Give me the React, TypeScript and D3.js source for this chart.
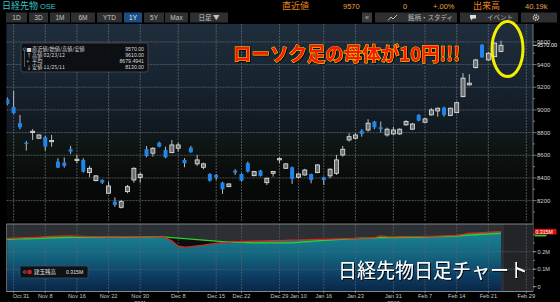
import React, { useEffect } from 'react';
import * as d3 from 'd3';

// ---- data ----
const opens = [
  9094, 9024, 8883, 8711, 8806, 8750, 8759, 8720, 8544, 8535,
  8653, 8553, 8559, 8447, 8376, 8382, 8265, 8191, 8141, 8279,
  8382, 8403, 8653, 8618, 8711, 8647, 8623, 8662, 8559, 8667,
  8524, 8494, 8435, 8426, 8358, 8323, 8465, 8435, 8530, 8420,
  8465, 8358, 8441, 8560, 8485, 8494, 8406, 8426, 8435, 8447,
  8406, 8418, 8441, 8603, 8735, 8750, 8817, 8823, 8897, 8847,
  8779, 8788, 8788, 8868, 8830, 8956, 8891, 8956, 8991, 9020,
  8950, 8976, 9117, 9221, 9373, 9574, 9441, 9470, 9515,
];
const highs = [
  9110, 9168, 8956, 8726, 8830, 8785, 8771, 8779, 8574, 8580,
  8682, 8603, 8574, 8506, 8425, 8388, 8367, 8229, 8206, 8338,
  8494, 8447, 8682, 8671, 8720, 8676, 8735, 8711, 8574, 8682,
  8603, 8535, 8441, 8435, 8367, 8353, 8477, 8441, 8544, 8462,
  8470, 8403, 8462, 8582, 8530, 8500, 8441, 8480, 8438, 8520,
  8412, 8485, 8603, 8682, 8794, 8794, 8830, 8918, 8903, 8897,
  8844, 8850, 8838, 8910, 8885, 8962, 8930, 9015, 9020, 9029,
  9020, 9073, 9324, 9315, 9450, 9580, 9510, 9595, 9610,
];
const lows = [
  9040, 8965, 8830, 8641, 8735, 8745, 8641, 8676, 8488, 8491,
  8612, 8530, 8447, 8406, 8370, 8347, 8259, 8145, 8130, 8265,
  8358, 8358, 8582, 8588, 8670, 8574, 8618, 8632, 8494, 8623,
  8506, 8477, 8367, 8382, 8259, 8318, 8426, 8367, 8447, 8415,
  8412, 8338, 8411, 8530, 8480, 8347, 8394, 8420, 8353, 8441,
  8338, 8397, 8426, 8588, 8720, 8740, 8764, 8808, 8830, 8800,
  8764, 8779, 8779, 8860, 8825, 8900, 8885, 8950, 8941, 8941,
  8945, 8971, 9112, 9215, 9365, 9460, 9435, 9465, 9510,
];
const closes = [
  9053, 8971, 8847, 8700, 8812, 8779, 8676, 8730, 8491, 8506,
  8632, 8565, 8455, 8485, 8418, 8358, 8329, 8162, 8191, 8323,
  8485, 8432, 8594, 8662, 8676, 8582, 8691, 8691, 8530, 8626,
  8559, 8524, 8376, 8406, 8300, 8347, 8447, 8376, 8456, 8456,
  8418, 8397, 8456, 8570, 8524, 8391, 8435, 8470, 8382, 8515,
  8382, 8477, 8559, 8653, 8764, 8779, 8788, 8883, 8847, 8830,
  8830, 8823, 8830, 8897, 8876, 8906, 8921, 9000, 9015, 8956,
  9015, 9064, 9280, 9236, 9441, 9465, 9500, 9589, 9570,
];
// open interest (millions) and its average line
const openInterest = [
  0.277, 0.278, 0.279, 0.280, 0.281, 0.283, 0.286, 0.288, 0.289, 0.290,
  0.290, 0.289, 0.288, 0.287, 0.286, 0.286, 0.285, 0.285, 0.286, 0.286,
  0.285, 0.285, 0.284, 0.284, 0.283, 0.280, 0.262, 0.232, 0.226, 0.229,
  0.234, 0.238, 0.243, 0.248, 0.252, 0.255, 0.257, 0.258, 0.259, 0.260,
  0.261, 0.262, 0.263, 0.264, 0.265, 0.266, 0.267, 0.268, 0.269, 0.270,
  0.271, 0.272, 0.273, 0.274, 0.275, 0.276, 0.277, 0.278, 0.280, 0.290,
  0.286, 0.285, 0.286, 0.286, 0.287, 0.287, 0.288, 0.288, 0.289, 0.290,
  0.292, 0.293, 0.300, 0.306, 0.307, 0.309, 0.311, 0.313, 0.315,
];
const oiAverage = [
  0.271, 0.272, 0.273, 0.274, 0.275, 0.276, 0.278, 0.279, 0.280, 0.281,
  0.282, 0.282, 0.283, 0.283, 0.283, 0.284, 0.284, 0.284, 0.284, 0.284,
  0.284, 0.284, 0.284, 0.284, 0.284, 0.283, 0.281, 0.278, 0.275, 0.272,
  0.269, 0.266, 0.263, 0.260, 0.258, 0.256, 0.254, 0.253, 0.252, 0.251,
  0.251, 0.250, 0.250, 0.250, 0.251, 0.251, 0.253, 0.256, 0.259, 0.262,
  0.265, 0.267, 0.269, 0.271, 0.273, 0.275, 0.277, 0.278, 0.279, 0.280,
  0.281, 0.281, 0.282, 0.282, 0.283, 0.284, 0.285, 0.286, 0.286, 0.287,
  0.288, 0.289, 0.292, 0.295, 0.297, 0.299, 0.301, 0.303, 0.305,
];
const priceTicks = [8200, 8400, 8600, 8800, 9000, 9200, 9400, 9600];
const oiTicks = [0, 0.1, 0.2];
const oiTickLabels = ['0', '0.1M', '0.2M'];
const dateLabels = ['Oct 31', 'Nov 8', 'Nov 16', 'Nov 22', 'Nov 30', 'Dec 8', 'Dec 15', 'Dec 22', 'Dec 29',
  'Jan 10', 'Jan 16', 'Jan 23', 'Jan 31', 'Feb 7', 'Feb 14', 'Feb 21', 'Feb 29'];
const dateIndex = [1, 6, 11, 16, 21, 27, 33, 37, 43, 46, 50, 55, 61, 66, 71, 76, 82];
const yearLabels = ['2011', '2012'];
const yearIndex = [21, 61];
const lastPrice = 9570;
const lastOI = 0.315;
const rangeButtons = ['1D', '3D', '1M', '6M', 'YTD', '1Y', '5Y', 'Max', '日足 ▼'];
const activeButton = '1Y';
const legendRows = ['直近値/始値/高値/安値', '高値 02/23/12', '平均', '安値 11/25/11'];
const legendValues = ['9570.00', '9610.00', '8679.4941', '8130.00'];
const legendIcons = ['■', '↑', '+', '↓'];

// ---- layout ----
const W = 560, H = 302;
const PL = 6.5, PR = 533, MT = 24, MB = 222, ST = 224, SB = 291.5;
const btnX = [6, 29, 50, 71, 97, 124, 144, 165, 190];
const btnW = [21, 19, 20, 24, 25, 18, 20, 23, 38];
const FONT = '"Liberation Sans", "DejaVu Sans", sans-serif';
const JFONT = '"Noto Sans CJK JP", "Noto Sans", sans-serif';

export default function App() {
  useEffect(() => {
    document.body.style.margin = '0';
    document.body.style.background = '#000';
    document.body.style.overflow = 'hidden';
  }, []);

  const n = closes.length;
  const idx = d3.range(n);
  const x = d3.scaleLinear().domain([0, n - 1]).range([7.3, 501]);
  const y = d3.scaleLinear().domain([8200, 9600]).range([200.6, 41.9]);
  const yOI = d3.scaleLinear().domain([0, lastOI]).range([286.7, 231.6]);

  const oiLine = d3.line<number>().x(i => x(i)).y(i => yOI(openInterest[i]));
  const avgLine = d3.line<number>().x(i => x(i)).y(i => yOI(oiAverage[i]));
  const oiArea = d3.area<number>().x(i => x(i)).y0(SB).y1(i => yOI(openInterest[i]));
  const gapArea = d3.area<number>().x(i => x(i))
    .y0(i => yOI(openInterest[i]))
    .y1(i => yOI(Math.max(openInterest[i], oiAverage[i])));
  const minorTicks = d3.range(8100, 9700, 100);
  const lastX = x(n - 1) + 3;

  return (
    <svg width={W} height={H} style={{ position: 'absolute', left: 0, top: 0, display: 'block', background: '#000' }}>
      <defs>
        <linearGradient id="mainBg" x1="0" y1="0" x2="0" y2="1">
          <stop offset="0%" stopColor="#1f2e3c" />
          <stop offset="30%" stopColor="#172330" />
          <stop offset="52%" stopColor="#111a22" />
          <stop offset="62%" stopColor="#0e1512" />
          <stop offset="80%" stopColor="#080909" />
          <stop offset="100%" stopColor="#050505" />
        </linearGradient>
        <linearGradient id="oiFill" x1="0" y1="0" x2="0" y2="1">
          <stop offset="0%" stopColor="#1b8392" />
          <stop offset="40%" stopColor="#136580" />
          <stop offset="75%" stopColor="#0d3c62" />
          <stop offset="100%" stopColor="#0a2646" />
        </linearGradient>
        <clipPath id="mainClip"><rect x={PL} y={MT} width={PR - PL} height={MB - MT} /></clipPath>
        <clipPath id="subClip"><rect x={PL} y={ST} width={PR - PL} height={SB - ST} /></clipPath>
        <filter id="shadow" x="-5%" y="-20%" width="110%" height="140%">
          <feDropShadow dx="1" dy="1" stdDeviation="0.6" floodColor="#000" floodOpacity="0.9" />
        </filter>
      </defs>

      {/* header */}
      <text x={2} y={9} fontFamily={JFONT} fontSize={9} fill="#35c6c6">日経先物 <tspan fontFamily={FONT} fontSize={7.5}>OSE</tspan></text>
      <text x={282} y={9} fontFamily={JFONT} fontSize={9} fill="#e8801c">直近値</text>
      <text x={343} y={9} fontFamily={FONT} fontSize={7.5} fill="#e8a040">{lastPrice}</text>
      <text x={403} y={9} fontFamily={FONT} fontSize={7.5} fill="#e8a040">0</text>
      <text x={433} y={9} fontFamily={FONT} fontSize={7.5} fill="#e8a040">+.00%</text>
      <text x={473} y={9} fontFamily={JFONT} fontSize={9} fill="#e8801c">出来高</text>
      <text x={525} y={9} fontFamily={FONT} fontSize={7.5} fill="#e8a040">40.19k</text>

      {/* toolbar */}
      {rangeButtons.map((b, i) => (
        <g key={b}>
          <rect x={btnX[i]} y={12.5} width={btnW[i]} height={10} fill={b === activeButton ? '#1b4c82' : '#2e2f31'} />
          <text x={btnX[i] + btnW[i] / 2} y={20.3} textAnchor="middle" fontFamily={b === '日足 ▼' ? JFONT : FONT}
            fontSize={6.5} fill={b === activeButton ? '#e8eef6' : '#c4c4c4'}>{b}</text>
        </g>
      ))}
      <rect x={362} y={12.5} width={10} height={10} fill="#3a3b3d" />
      <text x={367} y={20} textAnchor="middle" fontFamily={FONT} fontSize={7} fill="#bbb">«</text>
      <rect x={375} y={12.5} width={82} height={10} fill="#2e2f31" />
      <path d="M388,20.5 L391,17 L393,19 L397,15" stroke="#ccc" fill="none" strokeWidth={0.9} />
      <text x={408} y={20.3} fontFamily={JFONT} fontSize={6.5} fill="#b8b8b8">銘柄・スタディ</text>
      <rect x={460} y={12.5} width={58} height={10} fill="#2e2f31" />
      <path d="M470,15 L476,15 L476,18.5 L473,18.5 L471,20.5 L471,18.5 L470,18.5 Z" fill="#ddd" />
      <text x={487} y={20.3} fontFamily={JFONT} fontSize={6.5} fill="#b8b8b8">イベント</text>
      <rect x={521} y={12.5} width={36} height={10} fill="#2e2f31" />
      <circle cx={536} cy={17.5} r={2.6} fill="none" stroke="#ddd" strokeWidth={1.4} strokeDasharray="1.2,0.8" />
      <circle cx={536} cy={17.5} r={1} fill="#ddd" />

      {/* main panel */}
      <rect x={PL} y={MT} width={PR - PL} height={MB - MT} fill="url(#mainBg)" />
      <g stroke="#5e656c" strokeWidth={0.8} strokeDasharray="2,1">
        {priceTicks.map(p => <line key={p} x1={PL} x2={PR} y1={y(p)} y2={y(p)} />)}
        {dateIndex.map(d => <line key={'v' + d} x1={x(d)} x2={x(d)} y1={MT} y2={MB} />)}
      </g>
      <g clipPath="url(#mainClip)">
        {idx.map(i => {
          const up = closes[i] >= opens[i];
          const top = y(Math.max(opens[i], closes[i]));
          const bot = y(Math.min(opens[i], closes[i]));
          return (
            <g key={i}>
              <line x1={x(i)} x2={x(i)} y1={y(highs[i])} y2={y(lows[i])} stroke="#b9bdc2" strokeWidth={1} />
              <rect x={x(i) - 2} y={top} width={4} height={Math.max(1.2, bot - top)}
                fill={up ? '#6a6f74' : '#1f86f0'} stroke={up ? '#e8e8e8' : 'none'} strokeWidth={up ? 0.8 : 0} />
            </g>
          );
        })}
      </g>

      {/* legend box */}
      <rect x={21} y={43} width={127} height={29} rx={2} fill="#0b0d10" fillOpacity={0.92} stroke="#4a5057" strokeWidth={0.8} />
      <line x1={24.5} x2={24.5} y1={50} y2={67} stroke="#888" strokeWidth={0.6} />
      <circle cx={24.5} cy={49.3} r={1.3} fill="#0b0d10" stroke="#aaa" strokeWidth={0.6} />
      {legendRows.map((r, i) => (
        <g key={r}>
          <text x={26.5} y={51.3 + i * 5.8} fontFamily={JFONT} fontSize={5} fill="#e0e0e0">{legendIcons[i]}</text>
          <text x={32} y={51.3 + i * 5.8} fontFamily={JFONT} fontSize={5.2} fill="#d8d8d8">{r}</text>
          <text x={144} y={51.3 + i * 5.8} textAnchor="end" fontFamily={FONT} fontSize={5.2} fill="#d8d8d8">{legendValues[i]}</text>
        </g>
      ))}

      {/* main right axis */}
      <line x1={PR} x2={PR} y1={MT} y2={SB} stroke="#8a8e92" strokeWidth={0.8} />
      {minorTicks.map(p => <line key={'m' + p} x1={PR} x2={PR + (p % 200 === 0 ? 3.5 : 2)} y1={y(p)} y2={y(p)} stroke="#9a9ea2" strokeWidth={0.7} />)}
      {priceTicks.map(p => (
        <text key={'t' + p} x={537} y={y(p) + 2} fontFamily={FONT} fontSize={6} fill="#d0d0d0">{p}</text>
      ))}
      <line x1={PR} x2={537} y1={y(lastPrice)} y2={y(lastPrice)} stroke="#fff" strokeWidth={0.8} />
      <text x={537} y={y(lastPrice) + 1.5} fontFamily={FONT} fontSize={5.6} fill="#f0f0f0">{lastPrice.toFixed(2)}</text>

      {/* sub panel */}
      <rect x={PL} y={ST} width={PR - PL} height={SB - ST} fill="#2c2f33" />
      <rect x={lastX} y={ST} width={PR - lastX} height={SB - ST} fill="#222427" />
      <g clipPath="url(#subClip)">
        <path d={oiArea(idx) || ''} fill="url(#oiFill)" />
        <path d={gapArea(idx) || ''} fill="#0b0d0f" />
      </g>
      <g stroke="#5e656c" strokeWidth={0.8} strokeDasharray="2,1" strokeOpacity={0.8}>
        {oiTicks.slice(1).map(v => <line key={'o' + v} x1={PL} x2={PR} y1={yOI(v)} y2={yOI(v)} />)}
        {dateIndex.map(d => <line key={'sv' + d} x1={x(d)} x2={x(d)} y1={ST} y2={SB} />)}
      </g>
      <path d={avgLine(idx) || ''} fill="none" stroke="#27d82a" strokeWidth={1.3} />
      <path d={oiLine(idx) || ''} fill="none" stroke="#e0261c" strokeWidth={1.2} />
      <line x1={PL} x2={PR} y1={ST} y2={ST} stroke="#8c9094" strokeWidth={0.9} />
      <line x1={PL} x2={PL} y1={ST} y2={SB} stroke="#777" strokeWidth={0.8} />

      {/* sub legend */}
      <rect x={20} y={266} width={68} height={12} rx={1.5} fill="#0c0e11" fillOpacity={0.92} stroke="#4a5057" strokeWidth={0.7} />
      <circle cx={24.8} cy={272} r={1.3} fill="none" stroke="#aaa" strokeWidth={0.6} />
      <rect x={27.5} y={270} width={4} height={4} fill="#e01818" />
      <text x={34} y={274} fontFamily={JFONT} fontSize={5.5} fill="#e0e0e0">建玉残高</text>
      <text x={66} y={274} fontFamily={FONT} fontSize={5.2} fill="#e0e0e0">{lastOI}M</text>

      {/* sub right axis */}
      {d3.range(0, 0.35, 0.05).map(v => (
        <line key={'om' + v} x1={PR} x2={PR + 2} y1={yOI(v)} y2={yOI(v)} stroke="#9a9ea2" strokeWidth={0.7} />
      ))}
      {oiTicks.map((v, i) => (
        <g key={'ol' + v}>
          <line x1={PR} x2={PR + 3.5} y1={yOI(v)} y2={yOI(v)} stroke="#bbb" strokeWidth={0.7} />
          <text x={537.5} y={yOI(v) + 2} fontFamily={FONT} fontSize={5.6} fill="#d0d0d0">{oiTickLabels[i]}</text>
        </g>
      ))}
      <rect x={PR + 1.5} y={yOI(lastOI) + 3.2} width={12} height={1.6} fill="#27d82a" />
      <rect x={PR + 1.5} y={yOI(lastOI) - 2.7} width={22} height={5.6} fill="#e01010" />
      <text x={PR + 2.5} y={yOI(lastOI) + 1.9} fontFamily={FONT} fontSize={5.2} fill="#fff">{lastOI}M</text>

      {/* x axis */}
      <line x1={PL} x2={PR} y1={SB} y2={SB} stroke="#a0a4a8" strokeWidth={0.8} />
      {dateIndex.map((d, i) => (
        <g key={'x' + d}>
          <line x1={x(d)} x2={x(d)} y1={SB} y2={SB + 1.8} stroke="#aaa" strokeWidth={0.7} />
          <text x={Math.max(x(d), 21)} y={298} textAnchor="middle" fontFamily={FONT} fontSize={5.6} fill="#c8c8c8">{dateLabels[i]}</text>
        </g>
      ))}
      {yearLabels.map((yl, i) => (
        <text key={yl} x={x(yearIndex[i])} y={304.5} textAnchor="middle" fontFamily={FONT} fontSize={5.6} fill="#c8c8c8">{yl}</text>
      ))}

      {/* annotations */}
      <text x={338} y={278} fontFamily={JFONT} fontSize={20} fill="#ffffff" textLength={190}
        lengthAdjust="spacingAndGlyphs" filter="url(#shadow)">日経先物日足チャート</text>
      <text x={233} y={61} fontFamily={JFONT} fontWeight={700} fontSize={19} fill="#ff1400" stroke="#ffe000"
        strokeWidth={0.9} paintOrder="stroke" textLength={227} lengthAdjust="spacingAndGlyphs" filter="url(#shadow)">ローソク足の母体が10円!!!</text>
      <ellipse cx={507.5} cy={49} rx={15.5} ry={27.5} fill="none" stroke="#f4ef00" strokeWidth={3} />
    </svg>
  );
}
